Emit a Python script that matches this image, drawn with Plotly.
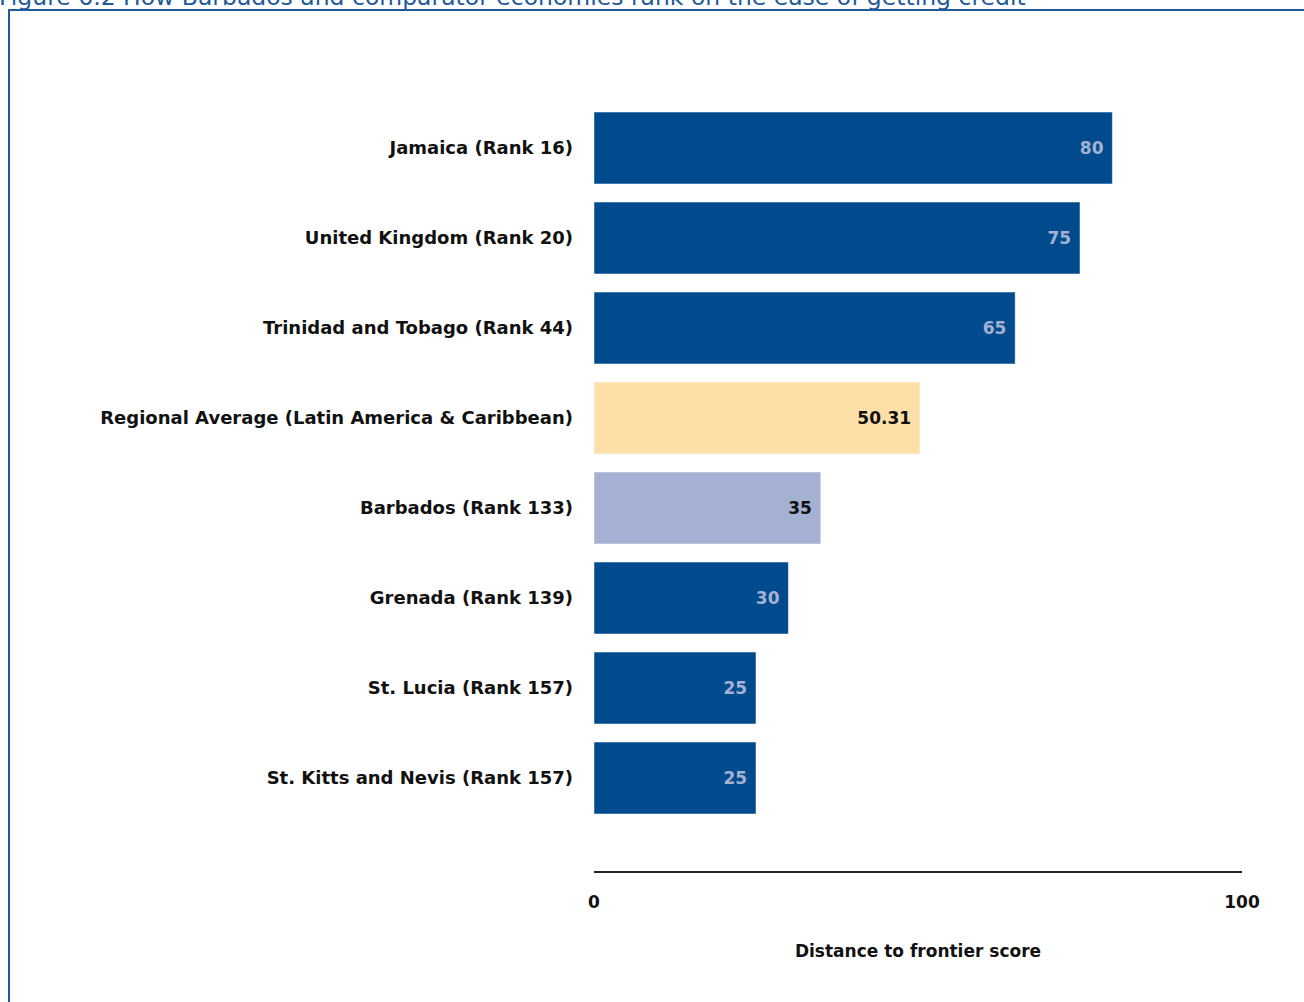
import plotly.graph_objects as go

categories = [
    "Jamaica (Rank 16)",
    "United Kingdom (Rank 20)",
    "Trinidad and Tobago (Rank 44)",
    "Regional Average (Latin America & Caribbean)",
    "Barbados (Rank 133)",
    "Grenada (Rank 139)",
    "St. Lucia (Rank 157)",
    "St. Kitts and Nevis (Rank 157)",
]
scores = [80, 75, 65, 50.31, 35, 30, 25, 25]
labels = ["80", "75", "65", "50.31", "35", "30", "25", "25"]
bar_colors = ["#004B8D", "#004B8D", "#004B8D", "#FFDFA8", "#A4B1D3", "#004B8D", "#004B8D", "#004B8D"]
label_colors = ["#A4B1D3", "#A4B1D3", "#A4B1D3", "#111111", "#111111", "#A4B1D3", "#A4B1D3", "#A4B1D3"]
positions = list(range(len(categories)))

FONT = "DejaVu Sans"

fig = go.Figure()
fig.add_trace(go.Bar(
    x=scores,
    y=positions,
    orientation="h",
    width=0.8,
    marker=dict(color=bar_colors, line=dict(color="rgba(255,255,255,0.5)", width=1)),
    text=[l + "\u00a0" for l in labels],
    textposition="inside",
    insidetextanchor="end",
    textfont=dict(family=FONT, size=17, color=label_colors, weight="bold"),
    cliponaxis=False,
    hoverinfo="skip",
))

L, R, T, B = 594, 62, 58, 131
W, H = 1304, 1002
pw, ph = W - L - R, H - T - B

def px(xp):
    return (xp - L) / pw

def py(yp):
    return (H - B - yp) / ph

fig.update_layout(
    width=W, height=H,
    margin=dict(l=L, r=R, t=T, b=B, pad=0),
    paper_bgcolor="white", plot_bgcolor="white",
    showlegend=False,
    font=dict(family=FONT, color="#111111"),
    xaxis=dict(
        range=[0, 100], tickvals=[0, 100], ticktext=["0", "100"],
        showgrid=False, zeroline=False, showline=True, linecolor="#222222", linewidth=2,
        ticks="", ticklabelstandoff=15,
        tickfont=dict(family=FONT, size=17, color="#111111", weight="bold"),
        title=dict(text="Distance to frontier score", standoff=34,
                   font=dict(family=FONT, size=17, color="#111111", weight="bold")),
    ),
    yaxis=dict(
        range=[8.033, -1], tickvals=positions, ticktext=categories,
        showgrid=False, zeroline=False, showline=False, ticks="",
        ticklabelstandoff=20,
        tickfont=dict(family=FONT, size=18, color="#111111", weight="bold"),
    ),
    shapes=[dict(type="rect", xref="paper", yref="paper",
                 x0=px(9), x1=px(1320), y0=py(1020), y1=py(10),
                 line=dict(color="#1F5A9A", width=2), fillcolor="rgba(0,0,0,0)", layer="below")],
    annotations=[dict(
        text="Figure 6.2 How Barbados and comparator economies rank on the ease of getting credit",
        xref="paper", yref="paper", x=px(-3), y=py(-3), xanchor="left", yanchor="middle",
        showarrow=False, font=dict(family=FONT, size=23.5, color="#1F5A9A"))],
)

fig.write_html("out.html", config={"displayModeBar": False},
               post_script="document.body.style.margin='0';document.body.style.overflow='hidden';")
